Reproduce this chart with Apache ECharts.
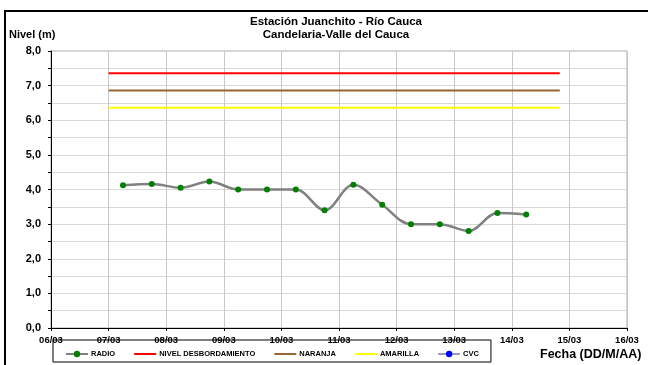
<!DOCTYPE html>
<html><head><meta charset="utf-8">
<script src="https://cdn.jsdelivr.net/npm/echarts@6/dist/echarts.min.js"></script>
<style>html,body{margin:0;padding:0;background:#fff}#c{width:648px;height:365px}</style>
</head><body><div id="c"></div>
<script>
// Data
const radioTimes = ['2024-03-07T06:00','2024-03-07T18:00','2024-03-08T06:00','2024-03-08T18:00','2024-03-09T06:00','2024-03-09T18:00','2024-03-10T06:00','2024-03-10T18:00','2024-03-11T06:00','2024-03-11T18:00','2024-03-12T06:00','2024-03-12T18:00','2024-03-13T06:00','2024-03-13T18:00','2024-03-14T06:00'];
const radioValues = [4.12, 4.16, 4.05, 4.23, 4.00, 4.00, 4.00, 3.40, 4.14, 3.56, 3.00, 3.00, 2.80, 3.32, 3.28];
const thresholdTimes = ['2024-03-07T00:00', '2024-03-14T20:00'];
const desbordamiento = 7.36;
const naranja = 6.86;
const amarilla = 6.36;
const cvcValues = [];
const xMinDate = '2024-03-06T00:00';
const xMaxDate = '2024-03-16T00:00';

function ts(s){ const [d,t]=s.split('T'); const [y,m,dd]=d.split('-').map(Number); const [h,mi]=t.split(':').map(Number); return Date.UTC(y,m-1,dd,h,mi); }
const DAY = 86400000;
const pad = n => (n<10?'0':'')+n;

const chart = echarts.init(document.getElementById('c'), null, {renderer:'canvas'});
const FONT = '"Liberation Sans", Arial, sans-serif';
const hline = v => thresholdTimes.map(t => [ts(t), v]);

chart.setOption({
  animation:false,
  backgroundColor:'#fff',
  textStyle:{fontFamily:FONT},
  title:{
    text:'Estación Juanchito - Río Cauca\nCandelaria-Valle del Cauca',
    left:331, top:10, textAlign:'center',
    textStyle:{fontFamily:FONT, fontSize:11.5, fontWeight:'bold', color:'#000', lineHeight:13}
  },
  graphic:[
    {type:'rect', shape:{x:5, y:11, width:700, height:400}, style:{fill:'none', stroke:'#000', lineWidth:2}, z:-1},
    {type:'text', left:9, top:29, style:{text:'Nivel (m)', font:'bold 11px '+FONT, fill:'#000'}},
    {type:'text', left:540, top:348, style:{text:'Fecha (DD/M/AA)', font:'bold 12.5px '+FONT, fill:'#000'}}
  ],
  legend:{
    left:53, top:340, width:441, height:8,
    borderColor:'#000', borderWidth:1, padding:[10,12,4,12],
    itemWidth:22, itemHeight:8, itemGap:18,
    textStyle:{fontFamily:FONT, fontSize:7.5, fontWeight:'bold', color:'#000', padding:[0,0,0,-2]},
    data:[
      {name:'RADIO'},
      {name:'NIVEL DESBORDAMIENTO', itemStyle:{opacity:0}},
      {name:'NARANJA', itemStyle:{opacity:0}},
      {name:'AMARILLA', itemStyle:{opacity:0}},
      {name:'CVC'}
    ]
  },
  grid:{left:51, top:51, right:21, bottom:37, show:true, borderColor:'#a6a6a6', borderWidth:1, containLabel:false},
  xAxis:{
    type:'value', min:ts(xMinDate), max:ts(xMaxDate), interval:DAY,
    axisLine:{show:true, onZero:false, lineStyle:{color:'#000', width:1}},
    axisTick:{show:true, length:3, lineStyle:{color:'#000'}},
    axisLabel:{margin:7, fontSize:9.5, fontWeight:'bold', color:'#000', fontFamily:FONT,
      formatter:v=>{const d=new Date(v); return pad(d.getUTCDate())+'/'+pad(d.getUTCMonth()+1);}},
    splitLine:{show:true, lineStyle:{color:'#c8c8c8', width:1}}
  },
  yAxis:{
    type:'value', min:0, max:8, interval:0.5,
    axisLine:{show:true, lineStyle:{color:'#000', width:1}},
    axisTick:{show:true, length:3, lineStyle:{color:'#000'}, interval:(i)=>i%2===0},
    axisLabel:{margin:10, fontSize:11, fontWeight:'bold', color:'#000', fontFamily:FONT,
      formatter:v=> (Math.abs(v-Math.round(v))<1e-6) ? v.toFixed(1).replace('.',',') : ''},
    splitLine:{show:true, lineStyle:{color:'#d9d9d9', width:1}}
  },
  series:[
    {name:'RADIO', type:'line', smooth:0.35, data:radioTimes.map((t,i)=>[ts(t), radioValues[i]]),
      symbol:'circle', symbolSize:6, itemStyle:{color:'#008000'}, lineStyle:{color:'#808080', width:2.5}, z:5},
    {name:'NIVEL DESBORDAMIENTO', type:'line', data:hline(desbordamiento), showSymbol:false, symbol:'none',
      lineStyle:{color:'#ff0000', width:2}, itemStyle:{color:'#ff0000'}},
    {name:'NARANJA', type:'line', data:hline(naranja), showSymbol:false, symbol:'none',
      lineStyle:{color:'#996633', width:2}, itemStyle:{color:'#996633'}},
    {name:'AMARILLA', type:'line', data:hline(amarilla), showSymbol:false, symbol:'none',
      lineStyle:{color:'#ffff00', width:2}, itemStyle:{color:'#ffff00'}},
    {name:'CVC', type:'line', data:cvcValues, symbol:'circle', symbolSize:5,
      lineStyle:{color:'#9a9ab4', width:2}, itemStyle:{color:'#0000ff'}}
  ]
});
</script></body></html>
